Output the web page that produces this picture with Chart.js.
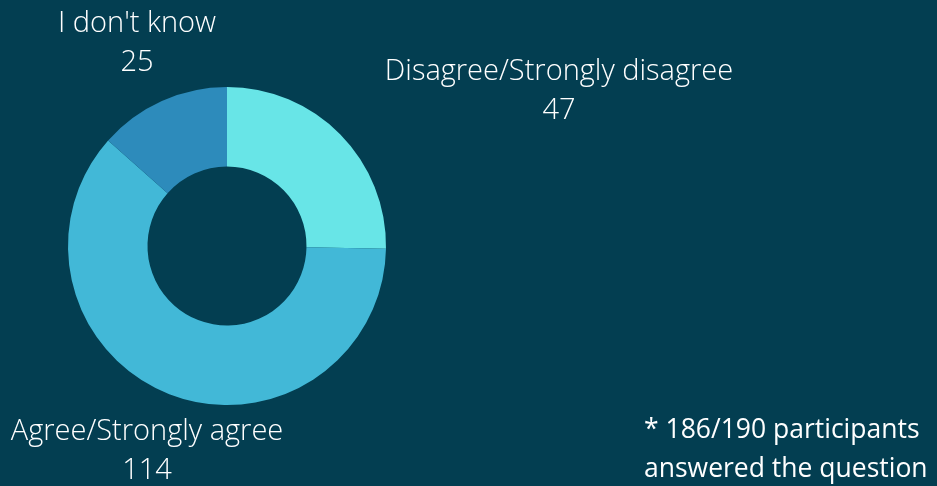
<!DOCTYPE html>
<html>
<head>
<meta charset="utf-8">
<script src="https://cdn.jsdelivr.net/npm/chart.js@4"></script>
<style>
  html, body { margin: 0; padding: 0; background: #033e51; }
  #wrap { position: relative; width: 937px; height: 486px; }
</style>
</head>
<body>
<div id="wrap"><canvas id="answersChart" width="937" height="486"></canvas></div>
<script>
// answers to the survey question (186 of 190 participants)
const categories = ['Disagree/Strongly disagree', 'Agree/Strongly agree', "I don't know"];
const counts = [47, 114, 25];
const sliceColors = ['#68e5e7', '#42b8d7', '#2d8bbb'];
const footnote = ['* 186/190 participants', 'answered the question'];

// where each outside label sits (text centre, first line)
const labelSpots = [
    { x: 559, y: 72 },
    { x: 147, y: 432 },
    { x: 137, y: 24 }
];

const outsideLabels = {
    id: 'outsideLabels',
    afterDraw(chart) {
        const ctx = chart.ctx;
        ctx.save();
        ctx.fillStyle = '#ffffff';
        ctx.textAlign = 'center';
        ctx.textBaseline = 'middle';
        ctx.font = '300 29px "Open Sans", sans-serif';
        chart.data.labels.forEach((label, i) => {
            const spot = labelSpots[i];
            ctx.fillText(label, spot.x, spot.y);
            ctx.fillText(String(chart.data.datasets[0].data[i]), spot.x, spot.y + 39);
        });
        // footnote, bottom right
        ctx.textAlign = 'left';
        ctx.font = '400 26.5px "Open Sans", sans-serif';
        ctx.fillText(footnote[0], 644, 430);
        ctx.fillText(footnote[1], 644, 469);
        ctx.restore();
    }
};

new Chart(document.getElementById('answersChart'), {
    type: 'doughnut',
    data: {
        labels: categories,
        datasets: [{
            data: counts,
            backgroundColor: sliceColors,
            borderWidth: 0
        }]
    },
    options: {
        responsive: false,
        animation: false,
        cutout: '50%',
        layout: { padding: { left: 68, right: 551, top: 87, bottom: 81 } },
        plugins: {
            legend: { display: false },
            tooltip: { enabled: false }
        }
    },
    plugins: [outsideLabels]
});
</script>
</body>
</html>
